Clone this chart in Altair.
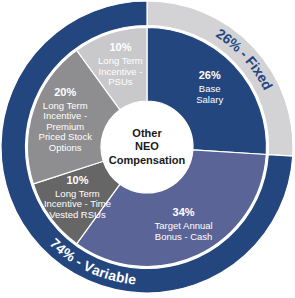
import math
import altair as alt
import pandas as pd

# ---- data ----
slices = ["Base Salary", "Target Annual Bonus - Cash", "LTI - Time Vested RSUs",
          "LTI - Premium Priced Stock Options", "LTI - PSUs"]
slice_values = [26, 34, 10, 20, 10]
slice_pct = ["26%", "34%", "10%", "20%", "10%"]
slice_lines = [["Base", "Salary"],
               ["Target Annual", "Bonus - Cash"],
               ["Long Term", "Incentive - Time", "Vested RSUs"],
               ["Long Term", "Incentive -", "Premium", "Priced Stock", "Options"],
               ["Long Term", "Incentive -", "PSUs"]]
ring = ["Fixed", "Variable"]
ring_values = [26, 74]
ring_labels = ["26% - Fixed", "74% - Variable"]
center_lines = ["Other", "NEO", "Compensation"]

# ---- styles ----
inner_colors = ["#24467F", "#5B6496", "#666667", "#8E8E90", "#C9C9CB"]
ring_colors = ["#D3D3D5", "#24467F"]
FONT = "Liberation Sans"
W, H = 294, 294
R_HOLE, R_IN_OUT, R_RING_IN, R_RING_OUT = 46, 119.5, 121.5, 146
LABEL_R = 86
LINE_H = 10.5
PCT_GAP = 2.5
RING_TEXT_R = 134
RING_FS = 14
ring_text_center_deg = [48, 205]
ring_text_clockwise = [True, False]
ring_text_colors = ["#24467F", "#FFFFFF"]

# Arial bold advance widths (em)
ADV = {"0": .556, "1": .556, "2": .556, "3": .556, "4": .556, "5": .556, "6": .556,
       "7": .556, "8": .556, "9": .556, "%": .889, " ": .278, "-": .333, "F": .611,
       "i": .278, "x": .556, "e": .556, "d": .611, "V": .667, "a": .556, "r": .389,
       "b": .611, "l": .278}

theta_scale = alt.Scale(domain=[0, 100])
color_scale = alt.Scale(domain=slices + ring, range=inner_colors + ring_colors)

inner_df = pd.DataFrame({"part": slices, "value": slice_values,
                         "order": list(range(len(slices)))})
ring_df = pd.DataFrame({"part": ring, "value": ring_values, "order": [0, 1]})

inner_arc = alt.Chart(inner_df).mark_arc(
    innerRadius=R_HOLE, outerRadius=R_IN_OUT, stroke="white", strokeWidth=1.2
).encode(
    theta=alt.Theta("value:Q", stack=True, scale=theta_scale),
    order=alt.Order("order:Q"),
    color=alt.Color("part:N", scale=color_scale, legend=None),
)
ring_arc = alt.Chart(ring_df).mark_arc(
    innerRadius=R_RING_IN, outerRadius=R_RING_OUT, stroke="white", strokeWidth=1.2
).encode(
    theta=alt.Theta("value:Q", stack=True, scale=theta_scale),
    order=alt.Order("order:Q"),
    color=alt.Color("part:N", scale=color_scale, legend=None),
)

# ---- slice labels: one row per text line, placed at the slice's mid angle ----
rows = []
cum = 0
for v, p, lines in zip(slice_values, slice_pct, slice_lines):
    mid = cum + v / 2
    cum += v
    block = [p] + lines
    n = len(block)
    for i, line in enumerate(block):
        off = (i - (n - 1) / 2) * LINE_H + PCT_GAP / 2
        bold = i == 0
        if bold:
            off -= PCT_GAP
        rows.append({"t": mid, "txt": line, "off": round(off, 3), "bold": bold})
lines_df = pd.DataFrame(rows)
groups = sorted(set(zip(lines_df["off"], lines_df["bold"])))
lines_df["grp"] = [groups.index((o, b)) for o, b in zip(lines_df["off"], lines_df["bold"])]

label_layers = []
for gi, (off, bold) in enumerate(groups):
    label_layers.append(
        alt.Chart(lines_df).transform_filter(alt.datum.grp == gi).mark_text(
            radius=LABEL_R, font=FONT, fontSize=11 if bold else 9.5,
            fontWeight="bold" if bold else "normal", color="white",
            dy=off, align="center", baseline="middle"
        ).encode(
            theta=alt.Theta("t:Q", stack=False, scale=theta_scale),
            text="txt:N",
        )
    )


# ---- curved ring labels: one row per character ----
def char_rows(label, center_deg, clockwise, r, fs):
    widths = [ADV.get(c, .556) * fs for c in label]
    total = sum(widths)
    pos = -total / 2
    out = []
    for c, w in zip(label, widths):
        m = pos + w / 2
        d = math.degrees(m / r)
        th = center_deg + d if clockwise else center_deg - d
        ang = th if clockwise else th - 180
        if c != " ":
            out.append({"ch": c, "t": th / 3.6, "a": ang % 360})
        pos += w
    return out


ring_text_layers = []
for lab, cd, cw, col in zip(ring_labels, ring_text_center_deg, ring_text_clockwise, ring_text_colors):
    df = pd.DataFrame(char_rows(lab, cd, cw, RING_TEXT_R, RING_FS))
    ring_text_layers.append(
        alt.Chart(df).mark_text(
            radius=RING_TEXT_R, font=FONT, fontSize=RING_FS, fontWeight="bold",
            color=col, align="center", baseline="middle"
        ).encode(
            theta=alt.Theta("t:Q", stack=False, scale=theta_scale),
            angle=alt.Angle("a:Q", scale=None),
            text="ch:N",
        )
    )

center_df = pd.DataFrame({"txt": ["\n".join(center_lines)]})
center_text = alt.Chart(center_df).mark_text(
    radius=0, font=FONT, fontSize=11, fontWeight="bold", color="#1a1a1a",
    lineBreak="\n", lineHeight=13.5, dy=-13.5, align="center", baseline="middle"
).encode(
    theta=alt.value(0),
    text="txt:N",
)

chart = alt.layer(
    inner_arc, ring_arc, *label_layers, *ring_text_layers, center_text
).properties(
    width=W, height=H, padding=0, autosize=alt.AutoSizeParams(type="none"),
    background="white"
).configure_view(strokeWidth=0)

chart.save("out.html", embed_options={"renderer": "svg", "actions": False})
